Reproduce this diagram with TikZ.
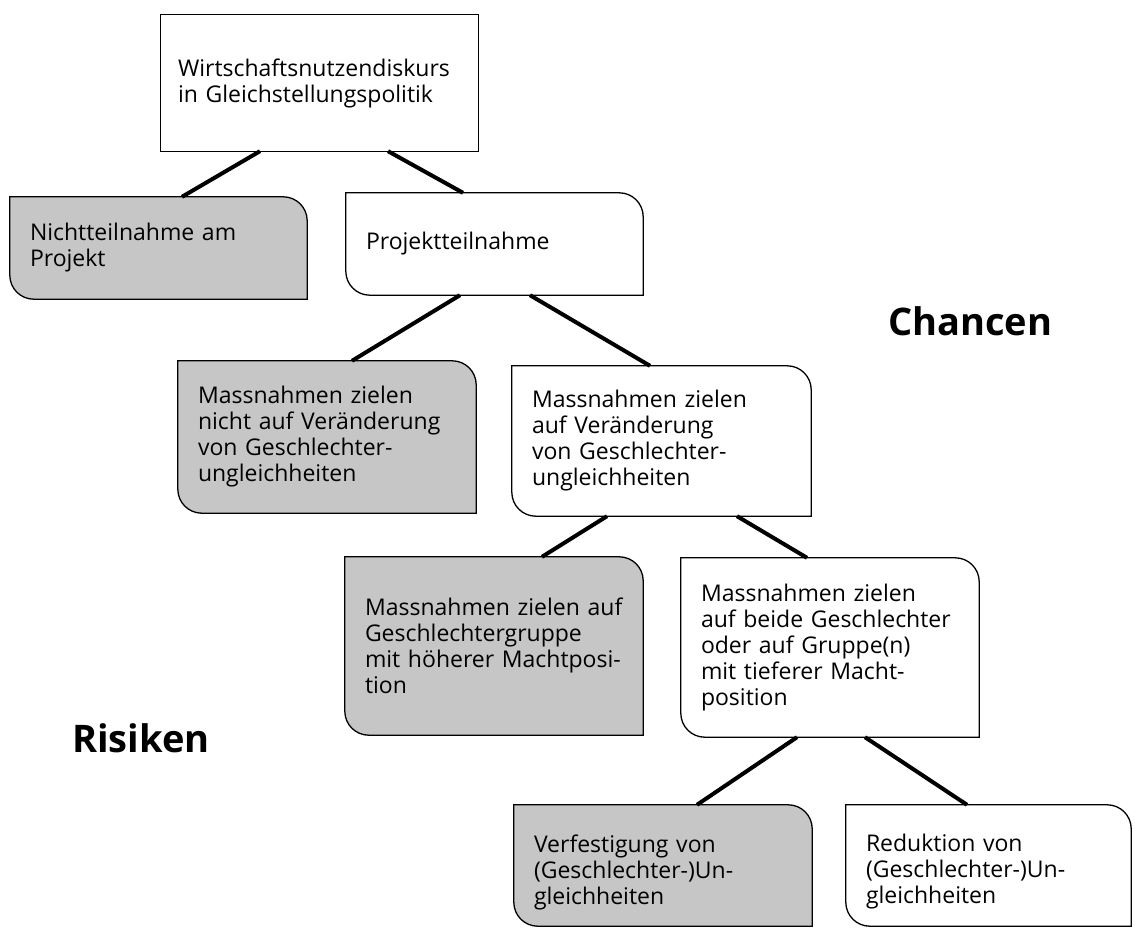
\documentclass[tikz,border=0pt]{standalone}
\usepackage{fontspec}
\setmainfont{Open Sans}
\usetikzlibrary{calc}
\pgfdeclarelayer{bg}
\pgfsetlayers{bg,main}
\definecolor{boxgrey}{RGB}{198,198,198}
% name, fill, bottom offset
\newcommand\rbox[3]{%
  \draw[boxline, fill=#2] (#1.north west) -- ([xshift=-24pt]#1.north east)
    arc[start angle=90, end angle=0, radius=24pt] -- ([yshift=#3]#1.south east)
    -- ([xshift=24pt,yshift=#3]#1.south west)
    arc[start angle=270, end angle=180, radius=24pt] -- cycle;}
\tikzset{
  box/.style={rectangle, draw=none, inner xsep=20pt, inner ysep=0pt, align=left,
    font=\fontsize{23}{26}\selectfont},
  boxline/.style={draw=black, line width=1.3pt},
  conn/.style={line width=4pt},
  bigword/.style={font=\bfseries\fontsize{38}{44}\selectfont, inner sep=0pt, anchor=base west}
}
\begin{document}
\begin{tikzpicture}[x=1pt, y=-1pt]
\begin{pgfonlayer}{bg}
  \fill[white] (0,0) rectangle (1135,931);
\end{pgfonlayer}
\useasboundingbox (0,0) rectangle (1135,931);

\node[box, inner xsep=17pt, minimum width=317pt, minimum height=136pt, text width=283pt] (top) at (319.5,83)
  {Wirtschaftsnutzendiskurs\\in Gleichstellungspolitik};
\node[box, minimum width=297pt, minimum height=102pt, text width=257pt] (nicht) at (158.5,248)
  {Nichtteilnahme am\\Projekt};
\node[box, minimum width=297pt, minimum height=102pt, text width=257pt] (proj) at (494.5,244)
  {Projektteilnahme};
\node[box, minimum width=298pt, minimum height=152pt, text width=258pt] (mnicht) at (327,437)
  {Massnahmen zielen\\nicht auf Veränderung\\von Geschlechter-\\ungleichheiten};
\node[box, minimum width=299pt, minimum height=150pt, text width=259pt] (mauf) at (661.5,441)
  {Massnahmen zielen\\auf Veränderung\\von Geschlechter-\\ungleichheiten};
\node[box, minimum width=298pt, minimum height=178pt, text width=258pt] (mhoch) at (494,646)
  {Massnahmen zielen auf\\Geschlechtergruppe\\mit höherer Machtposi-\\tion};
\node[box, minimum width=298pt, minimum height=179pt, text width=258pt] (mbeide) at (830,647.5)
  {Massnahmen zielen\\auf beide Geschlechter\\oder auf Gruppe(n)\\mit tieferer Macht-\\position};
\node[box, minimum width=298pt, minimum height=134pt, text width=258pt] (verf) at (663,872)
  {Verfestigung von\\(Geschlechter-)Un-\\gleichheiten};
\node[box, minimum width=285pt, minimum height=134pt, text width=245pt] (red) at (988.5,872)
  {Reduktion von\\(Geschlechter-)Un-\\gleichheiten};

\node[bigword] (chancen) at (888,335) {Chancen};
\node[bigword] (risiken) at (72,752) {Risiken};

\begin{pgfonlayer}{bg}
  \draw[boxline, fill=white] (top.north west) rectangle (top.south east);
  \rbox{nicht}{boxgrey}{0pt}
  \rbox{proj}{white}{0pt}
  \rbox{mnicht}{boxgrey}{0pt}
  \rbox{mauf}{white}{0pt}
  \rbox{mhoch}{boxgrey}{0pt}
  \rbox{mbeide}{white}{0pt}
  \rbox{verf}{boxgrey}{13pt}
  \rbox{red}{white}{13pt}
\end{pgfonlayer}

\draw[conn] ([xshift=-59.5pt]top.south) -- ([xshift=23.5pt]nicht.north);
\draw[conn] ([xshift=68.5pt]top.south) -- ([xshift=-31.5pt]proj.north);
\draw[conn] ([xshift=-34.5pt]proj.south) -- ([xshift=25pt]mnicht.north);
\draw[conn] ([xshift=35.5pt]proj.south) -- ([xshift=-11.5pt]mauf.north);
\draw[conn] ([xshift=-54.5pt]mauf.south) -- ([xshift=48pt]mhoch.north);
\draw[conn] ([xshift=75.5pt]mauf.south) -- ([xshift=-23pt]mbeide.north);
\draw[conn] ([xshift=-33pt]mbeide.south) -- ([xshift=34pt]verf.north);
\draw[conn] ([xshift=35pt]mbeide.south) -- ([xshift=-21.5pt]red.north);
\end{tikzpicture}
\end{document}
